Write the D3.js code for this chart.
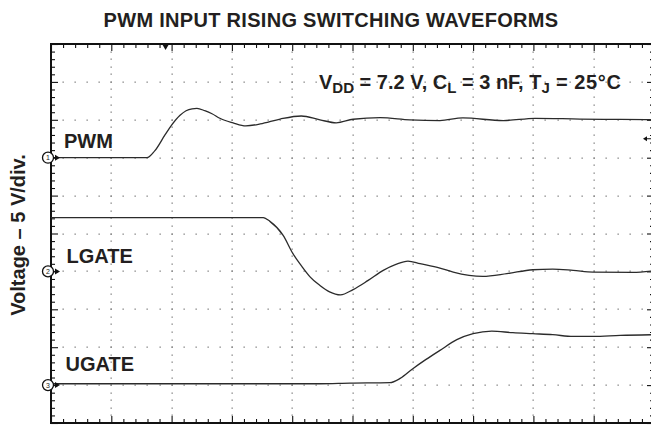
<!DOCTYPE html>
<html><head><meta charset="utf-8">
<script src="https://cdn.jsdelivr.net/npm/d3@7"></script>
<style>
html,body{margin:0;padding:0;background:#fff;}
svg{display:block;}
text{font-family:"Liberation Sans",Arial,Helvetica,sans-serif;font-weight:bold;fill:#231f20;}
</style></head>
<body>
<script>
// ---- data (time in divisions, voltage in volts; 5 V/div) ----
const title = "PWM INPUT RISING SWITCHING WAVEFORMS";
const yLabel = "Voltage \u2013 5 V/div.";
const channelNames = ["PWM", "LGATE", "UGATE"];
const channelOffsets = [7, 4, 1];           // zero-level of each trace, in divisions from bottom
const voltsPerDiv = 5;
const xDivisions = 10;
const yDivisions = 10;

const pwmT = [0, 1.59, 1.72, 1.89, 2.0, 2.14, 2.24, 2.34, 2.42, 2.55, 2.67, 2.80, 3.02, 3.23, 3.47, 3.80, 4.15, 4.46, 4.73, 5.01, 5.46, 5.95, 6.45, 6.83, 7.50, 8.03, 8.77, 9.44, 10];
const pwmV = [0, 0, 0.9, 3.0, 4.3, 5.6, 6.2, 6.45, 6.5, 6.2, 5.8, 5.2, 4.6, 4.2, 4.45, 5.1, 5.5, 5.0, 4.6, 5.07, 5.28, 5.0, 4.9, 5.25, 4.9, 5.2, 5.1, 5.05, 5.0];

const lgateT = [0, 3.52, 3.63, 3.85, 4.01, 4.16, 4.30, 4.46, 4.62, 4.80, 5.01, 5.26, 5.51, 5.72, 5.92, 6.12, 6.45, 6.67, 7.16, 7.56, 7.99, 8.32, 8.66, 8.99, 9.65, 10];
const lgateV = [7.1, 7.1, 6.6, 4.75, 2.37, 0.66, -0.75, -1.85, -2.7, -3.1, -2.4, -1.19, 0.13, 0.92, 1.36, 1.02, 0.44, -0.09, -0.66, -0.3, 0.22, 0.3, 0.13, -0.09, -0.13, 0.09];

const ugateT = [0, 4.46, 4.96, 5.62, 5.79, 6.0, 6.22, 6.45, 6.73, 7.0, 7.31, 7.66, 7.99, 8.32, 8.66, 8.99, 9.44, 10];
const ugateV = [0.18, 0.18, 0.26, 0.32, 0.88, 2.16, 3.39, 4.58, 5.99, 6.78, 7.12, 6.91, 6.78, 6.65, 6.42, 6.42, 6.56, 6.65];

const triggerTime = 1.9;        // divisions
const triggerLevel = 2.5;       // volts on channel 1

// ---- layout ----
const W = 651, H = 425;
const plot = {left: 51, right: 654, top: 44, bottom: 423};

const svg = d3.select("body").append("svg").attr("width", W).attr("height", H);

const x = d3.scaleLinear().domain([0, xDivisions]).range([plot.left, plot.right]);
const y = d3.scaleLinear().domain([0, yDivisions]).range([plot.bottom, plot.top]);

// dotted graticule
const g = svg.append("g");
const minorX = d3.range(0, xDivisions * 5 + 1).map(i => i / 5);
const minorY = d3.range(0, yDivisions * 5 + 1).map(i => i / 5);
const majX = d3.range(1, xDivisions);
const majY = d3.range(1, yDivisions);
const dots = [];
majX.forEach(k => minorY.forEach(m => dots.push([k, m])));
majY.forEach(k => minorX.forEach(m => dots.push([m, k])));
g.selectAll("rect.dot").data(dots).join("rect")
  .attr("class", "dot")
  .attr("x", d => Math.round(x(d[0])) - 0.5)
  .attr("y", d => Math.round(y(d[1])) - 0.5)
  .attr("width", 1.3).attr("height", 1.3)
  .attr("fill", "#808080");

// border
svg.append("rect")
  .attr("x", plot.left).attr("y", plot.top)
  .attr("width", plot.right - plot.left).attr("height", plot.bottom - plot.top)
  .attr("fill", "none").attr("stroke", "#111").attr("stroke-width", 2);

// border ticks via axes
const tickLen = d => (Math.abs(d - Math.round(d)) < 1e-6 ? 7 : 4);
function styleAxis(sel) {
  sel.select(".domain").remove();
  sel.selectAll("text").remove();
  sel.selectAll("line").attr("stroke", "#111").attr("stroke-width", 1.1);
}
const topAx = svg.append("g").attr("transform", `translate(0,${plot.top})`)
  .call(d3.axisBottom(x).tickValues(minorX).tickSizeOuter(0));
topAx.selectAll(".tick line").attr("y2", d => tickLen(d));
styleAxis(topAx);
const botAx = svg.append("g").attr("transform", `translate(0,${plot.bottom})`)
  .call(d3.axisTop(x).tickValues(minorX).tickSizeOuter(0));
botAx.selectAll(".tick line").attr("y2", d => -tickLen(d));
styleAxis(botAx);
const leftAx = svg.append("g").attr("transform", `translate(${plot.left},0)`)
  .call(d3.axisRight(y).tickValues(minorY).tickSizeOuter(0));
leftAx.selectAll(".tick line").attr("x2", d => tickLen(d));
styleAxis(leftAx);
const rightAx = svg.append("g").attr("transform", `translate(${plot.right},0)`)
  .call(d3.axisLeft(y).tickValues(minorY).tickSizeOuter(0));
rightAx.selectAll(".tick line").attr("x2", d => -tickLen(d));
styleAxis(rightAx);

// traces
const series = [
  {t: pwmT, v: pwmV, off: channelOffsets[0]},
  {t: lgateT, v: lgateV, off: channelOffsets[1]},
  {t: ugateT, v: ugateV, off: channelOffsets[2]}
];
const line = d3.line()
  .x(d => x(d[0]))
  .y(d => y(d[1]))
  .curve(d3.curveMonotoneX);
svg.append("clipPath").attr("id", "clip").append("rect")
  .attr("x", plot.left).attr("y", plot.top)
  .attr("width", plot.right - plot.left).attr("height", plot.bottom - plot.top);
svg.append("g").attr("clip-path", "url(#clip)")
  .selectAll("path.trace").data(series).join("path")
  .attr("class", "trace")
  .attr("d", s => line(s.t.map((t, i) => [t, s.off + s.v[i] / voltsPerDiv])))
  .attr("fill", "none").attr("stroke", "#2b2b2b").attr("stroke-width", 1.3);

// channel ground markers
const mk = svg.append("g").selectAll("g").data(channelOffsets).join("g")
  .attr("transform", d => `translate(${plot.left - 3},${y(d)})`);
mk.append("path").attr("d", "M7,-3 L12,0 L7,3 Z").attr("fill", "#111");
mk.append("line").attr("x1", 5).attr("x2", 9).attr("y1", 0).attr("y2", 0).attr("stroke", "#111");
mk.append("circle").attr("r", 5.5).attr("fill", "#fff").attr("stroke", "#111").attr("stroke-width", 1.3);
mk.append("text").attr("text-anchor", "middle").attr("dy", 2.5)
  .style("font-size", "7px").style("font-weight", "normal")
  .text((d, i) => i + 1);

// trigger position marker (top) and trigger level marker (right)
svg.append("path")
  .attr("d", `M${x(triggerTime) - 3.5},${plot.top} L${x(triggerTime) + 3.5},${plot.top} L${x(triggerTime)},${plot.top + 6} Z`)
  .attr("fill", "#111");
const ty = y(channelOffsets[0] + triggerLevel / voltsPerDiv);
svg.append("path").attr("d", `M643,${ty} L647,${ty - 2.5} L647,${ty + 2.5} Z`).attr("fill", "#111");
svg.append("line").attr("x1", 646).attr("x2", 651).attr("y1", ty).attr("y2", ty).attr("stroke", "#111").attr("stroke-width", 1);

// channel names
const labelPos = [[64, 147.5], [66.5, 263], [65.5, 370.5]];
svg.selectAll("text.ch").data(channelNames).join("text")
  .attr("class", "ch")
  .attr("x", (d, i) => labelPos[i][0]).attr("y", (d, i) => labelPos[i][1])
  .style("font-size", "20px")
  .text(d => d);

// title
svg.append("text").attr("x", 331).attr("y", 27).attr("text-anchor", "middle")
  .style("font-size", "20px").style("letter-spacing", "0.3px").text(title);

// y label
svg.append("text").attr("transform", "translate(25,235) rotate(-90)")
  .attr("text-anchor", "middle").style("font-size", "20px").text(yLabel);

// conditions annotation
const ann = svg.append("text").attr("x", 319).attr("y", 89).style("font-size", "20px");
const parts = [["V", 0], ["DD", 1], [" = 7.2 V, C", 0], ["L", 1], [" = 3 nF, T", 0], ["J", 1], [" = 25\u00B0C", 0]];
parts.forEach((p, i) => {
  const ts = ann.append("tspan").text(p[0]);
  if (p[1]) ts.style("font-size", "15px").attr("dy", 4);
  else ts.attr("dy", i > 0 ? -4 : 0);
  if (p[0].indexOf("\u00B0") >= 0) ts.style("letter-spacing", "0.6px");
});
</script>
</body></html>
